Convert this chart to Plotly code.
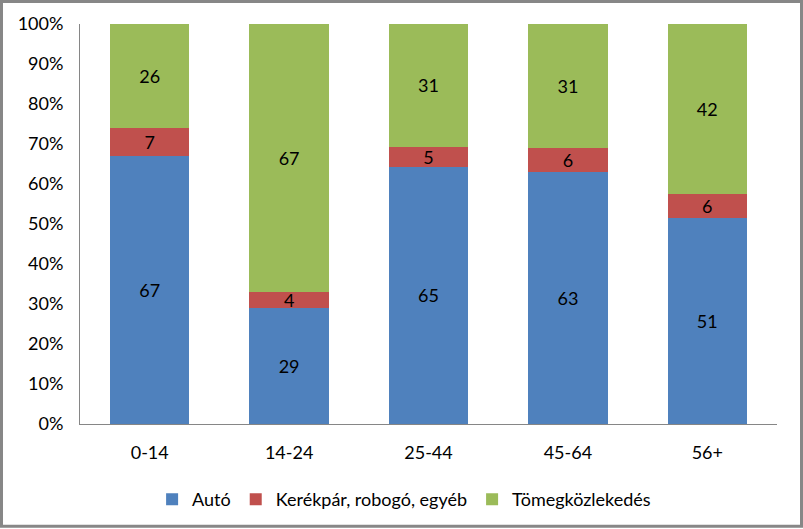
import plotly.graph_objects as go

categories = ["0-14", "14-24", "25-44", "45-64", "56+"]
auto = [67, 29, 65, 63, 51]
kerekpar = [7, 4, 5, 6, 6]
tomeg = [26, 67, 31, 31, 42]
y_ticks = [0, 10, 20, 30, 40, 50, 60, 70, 80, 90, 100]
y_labels = [f"{v}%" for v in y_ticks]

series = [
    ("Autó", auto, "#4F81BD"),
    ("Kerékpár, robogó, egyéb", kerekpar, "#C0504D"),
    ("Tömegközlekedés", tomeg, "#9BBB59"),
]

FONT = "Lato, 'Open Sans', sans-serif"
FS = 18

fig = go.Figure()
for name, vals, color in series:
    fig.add_trace(go.Bar(
        x=categories, y=vals, name=name,
        marker=dict(color=color, line=dict(width=0)),
        text=vals, texttemplate="%{text}", textposition="inside",
        insidetextanchor="middle", textangle=0, constraintext="none",
        textfont=dict(color="black", size=FS, family=FONT),
    ))

# plot area: x 80..777, y 24..425
L, R, T, B = 80, 26, 24, 104
W, H = 803, 529
pw, ph = W - L - R, H - T - B

fig.update_layout(
    barmode="stack", barnorm="percent", bargap=0.43,
    width=W, height=H,
    margin=dict(l=L, r=R, t=T, b=B),
    paper_bgcolor="white", plot_bgcolor="white",
    font=dict(family=FONT, size=FS, color="black"),
    uniformtext=dict(mode="show", minsize=10),
    legend=dict(orientation="h", x=0.465, xanchor="center", y=-0.14, yanchor="top",
                font=dict(size=FS), itemwidth=30, traceorder="normal"),
    showlegend=True,
    xaxis=dict(showgrid=False, showline=True, linecolor="#868686", linewidth=1,
               ticks="", ticklabelstandoff=12, tickfont=dict(size=FS)),
    yaxis=dict(range=[0, 100], tickvals=y_ticks, ticktext=y_labels, showgrid=False,
               showline=True, linecolor="#868686", linewidth=1, ticks="",
               ticklabelstandoff=12, tickfont=dict(size=FS), zeroline=False),
)

# outer chart border
fig.add_shape(type="rect", xref="paper", yref="paper",
              x0=(-L + 1.5) / pw, x1=(W - L - 1.5) / pw,
              y0=(-B + 1.5) / ph, y1=(H - B - 1.5) / ph,
              line=dict(color="#878787", width=3), layer="above")

fig.write_html("out.html", config={"displayModeBar": False},
               post_script="document.body.style.margin='0';")
